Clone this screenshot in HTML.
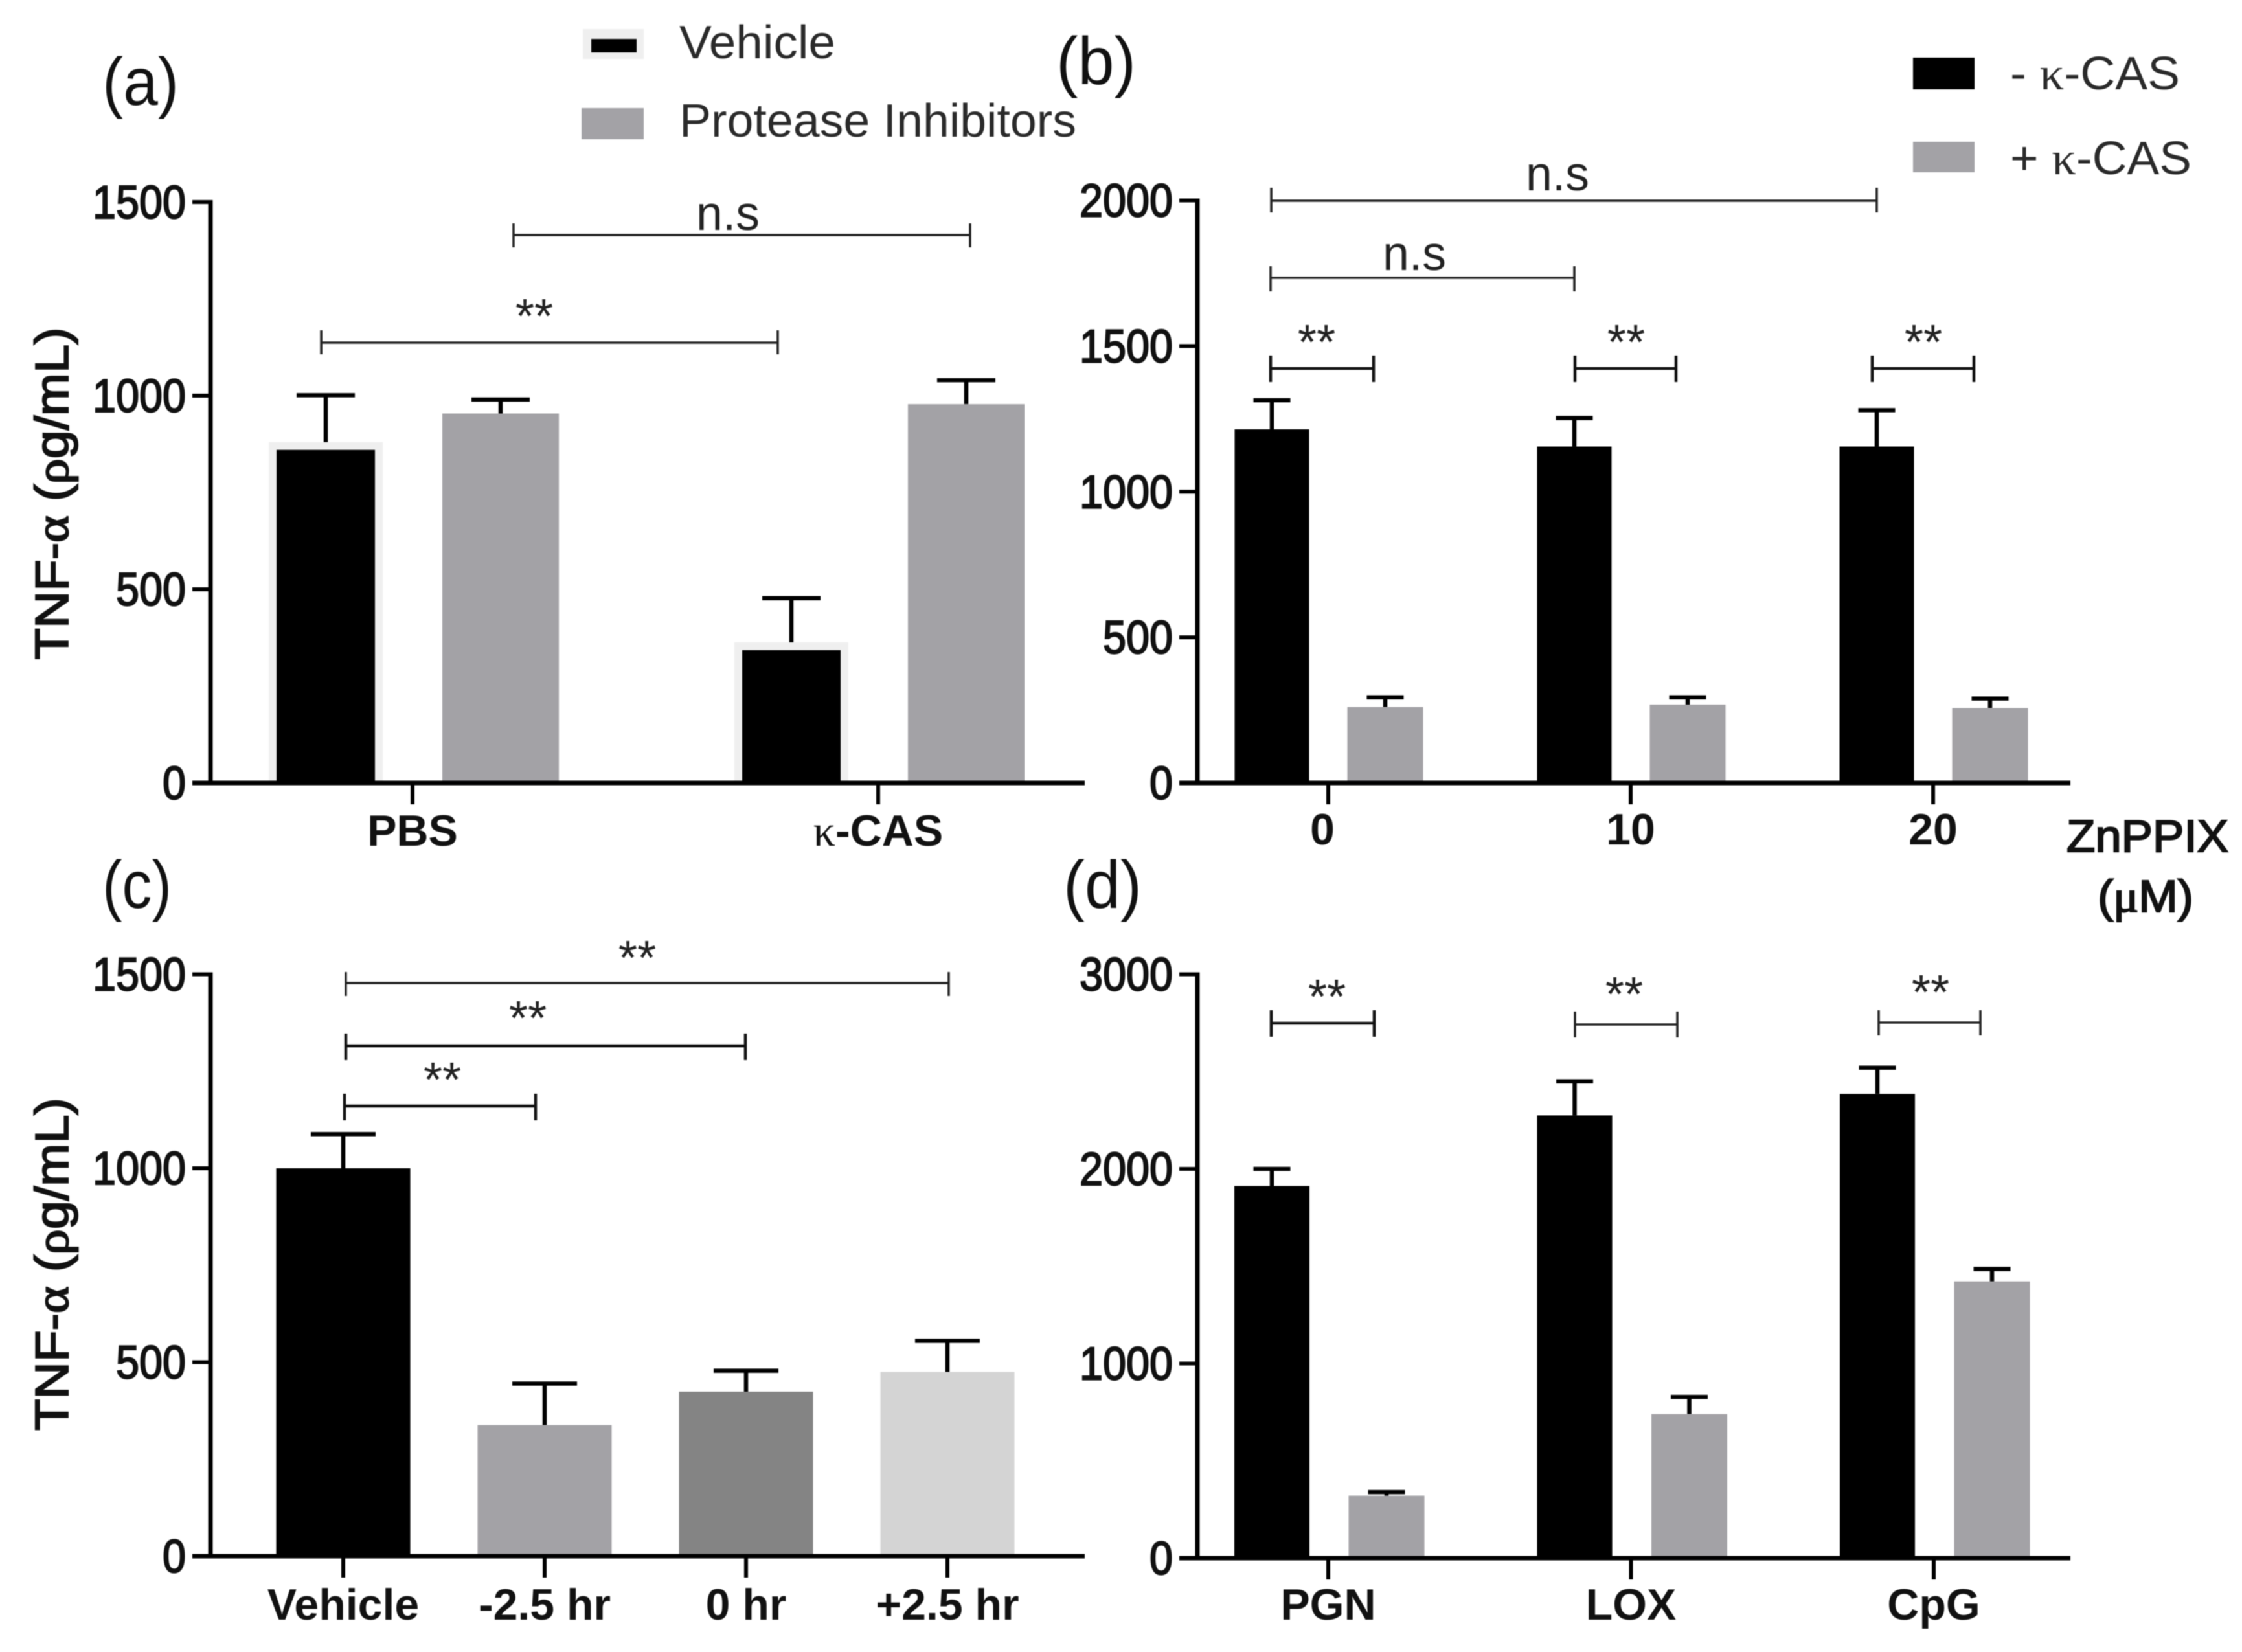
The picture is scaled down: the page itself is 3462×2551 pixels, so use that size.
<!DOCTYPE html>
<html lang="en">
<head>
<meta charset="utf-8">
<title>TNF-α bar chart panels</title>
<style>
html,body{margin:0;padding:0;background:#fff;}
svg{display:block;filter:blur(0.9px);}
text{font-family:"Liberation Sans",sans-serif;fill:#111;}
.sym{font-family:"Liberation Serif",serif;}
.cat-label{font-weight:bold;}
.cat-label tspan.sym{font-weight:normal;}
.semi{font-weight:normal;stroke:#111;stroke-width:2.2px;}
.ann{fill:none;stroke:#222;stroke-width:3.5;}
.ann.thick{stroke-width:4.5;stroke:#111;}
.anntxt{font-size:75px;fill:#222;text-anchor:middle;}
.panel-label{font-size:104px;fill:#111;}
.legend{font-size:72px;fill:#2a2a2a;}
</style>
</head>
<body>
<svg id="figure" xmlns="http://www.w3.org/2000/svg" width="3462" height="2551" viewBox="0 0 3462 2551">
<rect width="3462" height="2551" fill="#fff"/>

<text class="panel-label" x="158" y="162" textLength="118" lengthAdjust="spacingAndGlyphs">(a)</text>
<text class="panel-label" x="1631" y="130" textLength="123" lengthAdjust="spacingAndGlyphs">(b)</text>
<text class="panel-label" x="158" y="1402" textLength="107" lengthAdjust="spacingAndGlyphs">(c)</text>
<text class="panel-label" x="1642" y="1402" textLength="121" lengthAdjust="spacingAndGlyphs">(d)</text>

<g>
  <g>
    <rect x="900" y="45" width="94" height="46" fill="#efefef"/>
    <rect x="913" y="60" width="70" height="21" fill="#000"/>
    <text class="legend" x="1049" y="90" textLength="241" lengthAdjust="spacingAndGlyphs">Vehicle</text>
  </g>
  <g>
    <rect x="898" y="167" width="96" height="48" fill="#a3a2a6"/>
    <text class="legend" x="1049" y="211" textLength="613" lengthAdjust="spacingAndGlyphs">Protease Inhibitors</text>
  </g>
</g>
<g>
  <g>
    <rect x="2954" y="89" width="95" height="49" fill="#000"/>
    <text class="legend" x="3104" y="138" textLength="262" lengthAdjust="spacingAndGlyphs">- <tspan class="sym">κ</tspan>-CAS</text>
  </g>
  <g>
    <rect x="2954" y="219" width="95" height="47" fill="#a3a2a6"/>
    <text class="legend" x="3104" y="269" textLength="280" lengthAdjust="spacingAndGlyphs">+ <tspan class="sym">κ</tspan>-CAS</text>
  </g>
</g>

<text class="ytitle semi" font-size="72" text-anchor="middle" transform="translate(105,762) rotate(-90)" textLength="513" lengthAdjust="spacingAndGlyphs">TNF-<tspan class="sym">α</tspan> (<tspan class="sym">ρ</tspan>g/mL)</text>
<text class="ytitle semi" font-size="72" text-anchor="middle" transform="translate(105,1952) rotate(-90)" textLength="514" lengthAdjust="spacingAndGlyphs">TNF-<tspan class="sym">α</tspan> (<tspan class="sym">ρ</tspan>g/mL)</text>

<text class="semi" font-size="70" x="3191" y="1315" textLength="250" lengthAdjust="spacingAndGlyphs">ZnPPIX</text>
<text class="semi" font-size="70" x="3239" y="1408" textLength="148" lengthAdjust="spacingAndGlyphs">(<tspan class="sym">μ</tspan>M)</text>

<g id="panels"></g>

<g>
  <g><path class="ann" d="M793 363H1498M793 345V382M1498 345V382"/><text class="anntxt" x="1124" y="355" textLength="98" lengthAdjust="spacingAndGlyphs">n.s</text></g>
  <g><path class="ann" d="M496 529H1201M496 510V547M1201 510V547"/><text class="anntxt" x="825" y="514">**</text></g>
</g>
<g>
  <g><path class="ann" d="M1963 310H2898M1963 290V328M2898 290V328"/><text class="anntxt" x="2405" y="294" textLength="98" lengthAdjust="spacingAndGlyphs">n.s</text></g>
  <g><path class="ann" d="M1962 429H2431M1962 411V450M2431 411V450"/><text class="anntxt" x="2184" y="417" textLength="98" lengthAdjust="spacingAndGlyphs">n.s</text></g>
  <g><path class="ann thick" d="M1962 569H2121M1962 549V590M2121 549V590"/><text class="anntxt" x="2033" y="554">**</text></g>
  <g><path class="ann thick" d="M2432 569H2588M2432 549V590M2588 549V590"/><text class="anntxt" x="2511" y="554">**</text></g>
  <g><path class="ann thick" d="M2891 569H3048M2891 549V590M3048 549V590"/><text class="anntxt" x="2970" y="554">**</text></g>
</g>
<g>
  <g><path class="ann" d="M534 1518H1465M534 1501V1538M1465 1501V1538"/><text class="anntxt" x="984" y="1505">**</text></g>
  <g><path class="ann thick" d="M534 1615H1151M534 1596V1637M1151 1596V1637"/><text class="anntxt" x="815" y="1598">**</text></g>
  <g><path class="ann thick" d="M532 1708H827M532 1689V1730M827 1689V1730"/><text class="anntxt" x="683" y="1693">**</text></g>
</g>
<g>
  <g><path class="ann thick" d="M1963 1580H2122M1963 1560V1601M2122 1560V1601"/><text class="anntxt" x="2049" y="1565">**</text></g>
  <g><path class="ann" d="M2432 1582H2590M2432 1562V1602M2590 1562V1602"/><text class="anntxt" x="2508" y="1561">**</text></g>
  <g><path class="ann" d="M2901 1579H3058M2901 1560V1599M3058 1560V1599"/><text class="anntxt" x="2981" y="1558">**</text></g>
</g>
</svg>

<script>
// Panel (a) data
const aCategories = ['PBS', 'κ-CAS'];
const aTicks = [0, 500, 1000, 1500];
const aVehicle = [860, 343];
const aVehicleUpper = [1001, 477];
const aInhibitors = [954, 978];
const aInhibitorsUpper = [990, 1040];

// Panel (b) data
const bCategories = ['0', '10', '20'];
const bTicks = [0, 500, 1000, 1500, 2000];
const bMinus = [1214, 1155, 1155];
const bMinusUpper = [1314, 1253, 1280];
const bPlus = [261, 269, 257];
const bPlusUpper = [294, 294, 290];

// Panel (c) data
const cCategories = ['Vehicle', '-2.5 hr', '0 hr', '+2.5 hr'];
const cTicks = [0, 500, 1000, 1500];
const cValues = [1000, 338, 424, 475];
const cUpper = [1088, 445, 478, 555];

// Panel (d) data
const dCategories = ['PGN', 'LOX', 'CpG'];
const dTicks = [0, 1000, 2000, 3000];
const dMinus = [1912, 2275, 2385];
const dMinusUpper = [2000, 2450, 2520];
const dPlus = [321, 740, 1422];
const dPlusUpper = [339, 828, 1486];

const SVG_NS = 'http://www.w3.org/2000/svg';
const root = document.getElementById('panels');

function shape(parent, tag, props) {
  const node = document.createElementNS(SVG_NS, tag);
  for (const k in props) node.setAttribute(k, props[k]);
  parent.appendChild(node);
  return node;
}

function drawPanel(p) {
  const g = shape(root, 'g', {});
  
  

  const yTop = p.ticks[p.ticks.length - 1];
  const yScale = v => p.baseY - v * (p.baseY - p.topY) / yTop;
  const xScale = i => p.x0 + i * p.step;

  p.series.forEach(s => {
    s.values.forEach((v, i) => {
      const cx = xScale(i) + s.offset;
      const top = yScale(v);
      const capY = yScale(s.upper[i]);

      const err = shape(g, 'path', {
        d: 'M' + cx + ' ' + top + 'V' + capY + 'M' + (cx - p.capW / 2) + ' ' + capY + 'H' + (cx + p.capW / 2),
        fill: 'none', stroke: '#000', 'stroke-width': 6.5
      });
      
      

      if (s.halo) {
        const h = shape(g, 'rect', {
          x: cx - s.width / 2 - s.halo, y: top - s.halo,
          width: s.width + 2 * s.halo, height: p.baseY - top + s.halo, fill: '#efefef'
        });
        
        
      }

      const bar = shape(g, 'rect', {
        x: cx - s.width / 2, y: top, width: s.width, height: p.baseY - top,
        fill: s.palette ? s.palette[i] : s.color
      });
      
      
    });
  });

  const yAxis = shape(g, 'path', {
    d: 'M' + p.axisX + ' ' + (p.topY - 3) + 'V' + (p.baseY + 3),
    fill: 'none', stroke: '#000', 'stroke-width': 7
  });
  
  

  const xAxis = shape(g, 'path', {
    d: 'M' + (p.axisX - 28) + ' ' + p.baseY + 'H' + p.xEnd,
    fill: 'none', stroke: '#000', 'stroke-width': 7
  });
  
  

  p.ticks.forEach(t => {
    const y = yScale(t);
    const tk = shape(g, 'path', {
      d: 'M' + (p.axisX - 28) + ' ' + y + 'H' + p.axisX,
      fill: 'none', stroke: '#000', 'stroke-width': 6
    });
    
    

    const txt = String(t);
    const lab = shape(g, 'text', {
      x: p.axisX - 38, y: y + 25, 'text-anchor': 'end', 'font-size': 72, class: 'tick-label semi',
      textLength: txt.length * 36, lengthAdjust: 'spacingAndGlyphs'
    });
    lab.textContent = txt;
    
    
  });

  p.categories.forEach((c, i) => {
    const x = xScale(i);
    const tk = shape(g, 'path', {
      d: 'M' + x + ' ' + p.baseY + 'V' + (p.baseY + 33),
      fill: 'none', stroke: '#000', 'stroke-width': 6
    });
    
    

    const lab = shape(g, 'text', {
      x: x + (i === 0 ? p.firstLabelShift : 0), y: p.baseY + p.labelDy,
      'text-anchor': 'middle', 'font-size': 68, class: 'cat-label'
    });
    if (c.indexOf('κ') === 0) {
      const sym = shape(lab, 'tspan', { class: 'sym' });
      sym.textContent = 'κ';
      lab.appendChild(document.createTextNode(c.slice(1)));
    } else {
      lab.textContent = c;
    }
    
    
  });
}

drawPanel({
  id: 'a', axisX: 325, xEnd: 1675, baseY: 1209, topY: 312, x0: 637, step: 719, capW: 90, labelDy: 97, firstLabelShift: 0,
  ticks: aTicks, categories: aCategories,
  series: [
    { key: 'vehicle', values: aVehicle, upper: aVehicleUpper, color: '#000', offset: -134, width: 152, halo: 12 },
    { key: 'protease-inhibitors', values: aInhibitors, upper: aInhibitorsUpper, color: '#a3a2a6', offset: 136, width: 180 }
  ]
});

drawPanel({
  id: 'b', axisX: 1849, xEnd: 3197, baseY: 1209, topY: 309.5, x0: 2051, step: 467, capW: 57, labelDy: 95, firstLabelShift: -9,
  ticks: bTicks, categories: bCategories,
  series: [
    { key: 'minus-kappa-cas', values: bMinus, upper: bMinusUpper, color: '#000', offset: -87, width: 115 },
    { key: 'plus-kappa-cas', values: bPlus, upper: bPlusUpper, color: '#a3a2a6', offset: 88, width: 117 }
  ]
});

drawPanel({
  id: 'c', axisX: 325, xEnd: 1675, baseY: 2403, topY: 1504.5, x0: 530, step: 311, capW: 100, labelDy: 98, firstLabelShift: 0,
  ticks: cTicks, categories: cCategories,
  series: [
    { key: 'tnf', values: cValues, upper: cUpper, palette: ['#000', '#a3a2a6', '#848484', '#d4d4d4'], offset: 0, width: 207 }
  ]
});

drawPanel({
  id: 'd', axisX: 1849, xEnd: 3197, baseY: 2406, topY: 1504.5, x0: 2051, step: 467.5, capW: 57, labelDy: 95, firstLabelShift: 0,
  ticks: dTicks, categories: dCategories,
  series: [
    { key: 'minus-kappa-cas', values: dMinus, upper: dMinusUpper, color: '#000', offset: -87, width: 116 },
    { key: 'plus-kappa-cas', values: dPlus, upper: dPlusUpper, color: '#a3a2a6', offset: 90, width: 117 }
  ]
});
</script>
</body>
</html>
